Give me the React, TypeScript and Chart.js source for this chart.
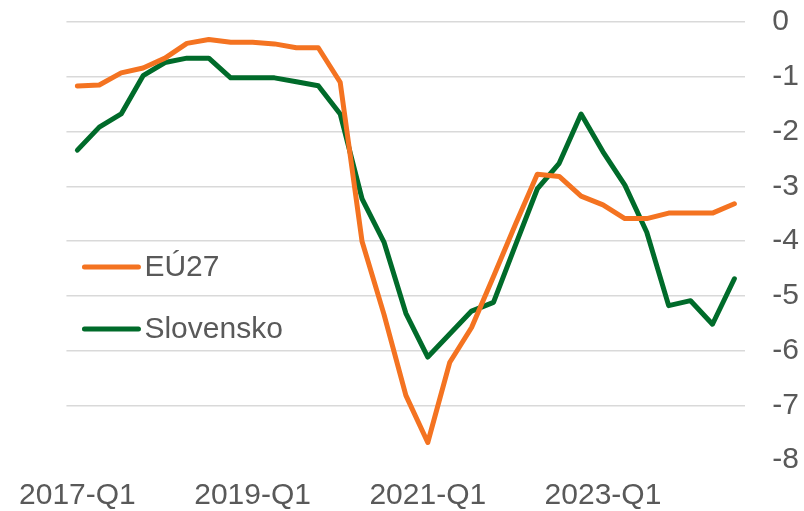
import React, { useEffect, useRef } from "react";
import { Chart, registerables } from "chart.js";

Chart.register(...registerables);

const categories = [
  "2017-Q1", "2017-Q2", "2017-Q3", "2017-Q4",
  "2018-Q1", "2018-Q2", "2018-Q3", "2018-Q4",
  "2019-Q1", "2019-Q2", "2019-Q3", "2019-Q4",
  "2020-Q1", "2020-Q2", "2020-Q3", "2020-Q4",
  "2021-Q1", "2021-Q2", "2021-Q3", "2021-Q4",
  "2022-Q1", "2022-Q2", "2022-Q3", "2022-Q4",
  "2023-Q1", "2023-Q2", "2023-Q3", "2023-Q4",
  "2024-Q1", "2024-Q2", "2024-Q3",
];

const eu27 = [
  -1.17, -1.15, -0.93, -0.84, -0.66, -0.39, -0.32, -0.37,
  -0.37, -0.4, -0.47, -0.47, -1.1, -4.01, -5.34, -6.82,
  -7.68, -6.22, -5.58, -4.65, -3.7, -2.78, -2.82, -3.18,
  -3.34, -3.59, -3.59, -3.49, -3.49, -3.49, -3.32,
];

const slovensko = [
  -2.34, -1.92, -1.68, -0.98, -0.74, -0.66, -0.66, -1.02,
  -1.02, -1.02, -1.09, -1.165, -1.68, -3.23, -4.02, -5.32,
  -6.12, -5.7, -5.28, -5.12, -4.08, -3.05, -2.58, -1.68,
  -2.37, -2.98, -3.84, -5.18, -5.09, -5.52, -4.69,
];

const seriesNames = ["EÚ27", "Slovensko"];
const seriesColors = ["#F47321", "#006B2A"];
const yTicks = [0, -1, -2, -3, -4, -5, -6, -7, -8];
const xLabelEvery = 8;

const FONT = "'Liberation Sans', Arial, sans-serif";
const TEXT = "#595959";

const legendPlugin = {
  id: "innerLegend",
  afterDraw(chart: any) {
    const ctx = chart.ctx;
    const area = chart.chartArea;
    const items = chart.data.datasets;
    ctx.save();
    items.forEach((ds: any, i: number) => {
      const y = area.top + 245 + i * 62;
      const x0 = area.left + 18;
      ctx.strokeStyle = ds.borderColor;
      ctx.lineWidth = 5;
      ctx.lineCap = "round";
      ctx.beginPath();
      ctx.moveTo(x0, y);
      ctx.lineTo(x0 + 54, y);
      ctx.stroke();
      ctx.fillStyle = TEXT;
      ctx.font = "30px " + FONT;
      ctx.textAlign = "left";
      ctx.textBaseline = "middle";
      ctx.fillText(ds.label, x0 + 60, y + 1);
    });
    ctx.restore();
  },
};

export default function App() {
  const ref = useRef<HTMLCanvasElement>(null);
  useEffect(() => {
    if (!ref.current) return;
    const chart = new Chart(ref.current, {
      type: "line",
      data: {
        labels: categories,
        datasets: [eu27, slovensko].map((d, i) => ({
          label: seriesNames[i],
          data: d,
          borderColor: seriesColors[i],
          backgroundColor: seriesColors[i],
          borderWidth: 5,
          pointRadius: 0,
          tension: 0,
          borderCapStyle: "round" as const,
          borderJoinStyle: "round" as const,
        })),
      },
      options: {
        animation: false,
        responsive: false,
        maintainAspectRatio: false,
        layout: { padding: { left: 63, top: 22, right: -22, bottom: -21 } },
        plugins: {
          legend: { display: false },
          tooltip: { enabled: false },
        },
        scales: {
          x: {
            offset: true,
            grid: { display: false, drawTicks: false },
            border: { display: false },
            ticks: {
              autoSkip: false,
              maxRotation: 0,
              minRotation: 0,
              padding: 18,
              color: TEXT,
              font: { family: FONT, size: 30, lineHeight: 1.2 },
              callback: (_v: any, i: number) =>
                i % xLabelEvery === 0 ? categories[i] : "",
            },
          },
          y: {
            position: "right",
            min: yTicks[yTicks.length - 1],
            max: yTicks[0],
            afterBuildTicks: (scale: any) => {
              scale.ticks = yTicks.map((v) => ({ value: v }));
            },
            afterFit: (scale: any) => {
              scale.paddingTop = 0;
              scale.paddingBottom = 0;
            },
            grid: {
              drawTicks: false,
              lineWidth: 1.5,
              color: (c: any) =>
                c.tick && c.tick.value === yTicks[yTicks.length - 1]
                  ? "rgba(0,0,0,0)"
                  : "#D9D9D9",
            },
            border: { display: false },
            ticks: {
              padding: 27,
              color: TEXT,
              font: { family: FONT, size: 30 },
            },
          },
        },
      },
      plugins: [legendPlugin],
    });
    return () => chart.destroy();
  }, []);
  return (
    <div style={{ position: "fixed", left: 0, top: 0, width: 804, height: 511, background: "#fff" }}>
      <canvas ref={ref} width={804} height={511} style={{ display: "block" }} />
    </div>
  );
}
